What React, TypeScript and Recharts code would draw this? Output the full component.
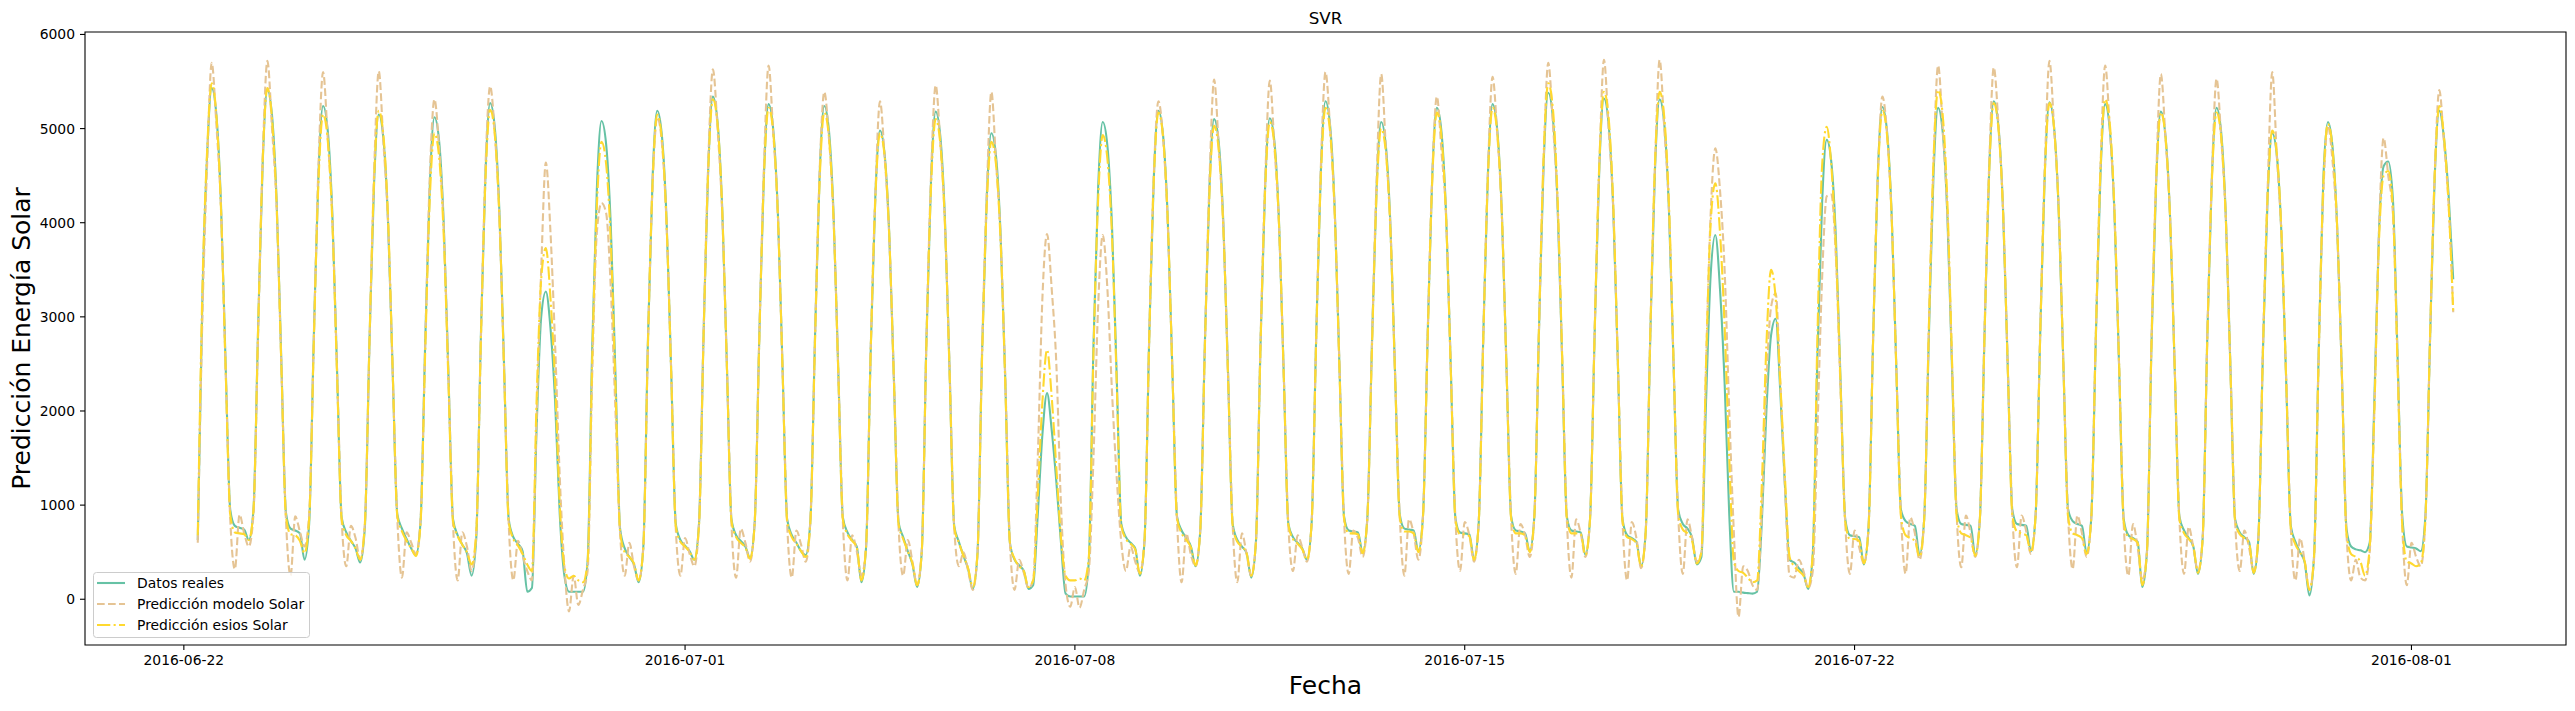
import { LineChart, Line, XAxis, YAxis, ReferenceArea } from "recharts";

const W = 2575;
const H = 711;
const FONT = '"DejaVu Sans", sans-serif';
const HOUR = 3600 * 1000;

// primera muestra: 2016-06-22 06:00, una muestra cada 2 horas
const startTime = Date.UTC(2016, 5, 22, 6);
const stepHours = 2;

const tickLabels = ["2016-06-22", "2016-07-01", "2016-07-08", "2016-07-15", "2016-07-22", "2016-08-01"];
const yTicks = [0, 1000, 2000, 3000, 4000, 5000, 6000];

// filas por día: horas 0, 2, 4 ... 22
const datosReales = [
  630, 3200, 4700, 5430, 5150, 4200, 2500, 950, 780, // 06-22 desde 06h
  760, 740, 630, 950, 2870, 4650, 5410, 5140, 4220, 2540, 920, 750,
  730, 700, 420, 800, 2780, 4510, 5240, 4980, 4090, 2460, 870, 710,
  620, 540, 390, 760, 2730, 4430, 5150, 4890, 4010, 2420, 900, 750,
  640, 540, 470, 820, 2710, 4400, 5120, 4870, 3990, 2410, 850, 680,
  580, 490, 250, 640, 2790, 4530, 5270, 5010, 4110, 2480, 850, 660,
  590, 510, 80, 120, 1800, 3000, 3270, 2880, 2100, 900, 250, 80, // 06-28
  80, 80, 80, 400, 2690, 4370, 5080, 4830, 3960, 2390, 750, 540,
  450, 370, 180, 550, 2750, 4470, 5190, 4930, 4050, 2440, 800, 630,
  570, 510, 420, 800, 2830, 4590, 5340, 5070, 4160, 2510, 850, 680, // 07-01
  620, 560, 440, 810, 2790, 4520, 5260, 4990, 4100, 2470, 850, 680,
  600, 510, 470, 830, 2780, 4510, 5240, 4980, 4090, 2460, 870, 710,
  630, 560, 180, 550, 2640, 4280, 4980, 4730, 3880, 2340, 820, 660,
  510, 370, 130, 500, 2740, 4450, 5180, 4920, 4040, 2430, 780, 610,
  460, 320, 110, 470, 2630, 4260, 4950, 4710, 3860, 2330, 600, 420,
  360, 300, 110, 150, 900, 1750, 2190, 1800, 1250, 600, 60, 30, // 07-07
  30, 30, 30, 400, 2690, 4360, 5070, 4820, 3960, 2380, 800, 660,
  600, 540, 250, 620, 2750, 4470, 5190, 4930, 4050, 2440, 880, 730,
  650, 560, 350, 720, 2700, 4380, 5100, 4850, 3980, 2400, 800, 630,
  560, 490, 230, 600, 2710, 4400, 5110, 4860, 3990, 2400, 800, 660,
  600, 540, 420, 800, 2800, 4550, 5290, 5030, 4130, 2490, 880, 730,
  720, 710, 490, 850, 2690, 4360, 5070, 4820, 3960, 2380, 900, 750,
  740, 730, 510, 880, 2770, 4490, 5220, 4960, 4070, 2450, 860, 710,
  700, 690, 420, 800, 2790, 4520, 5260, 4990, 4100, 2470, 880, 730, // 07-15
  720, 700, 510, 880, 2850, 4620, 5380, 5110, 4190, 2530, 880, 730,
  720, 710, 470, 850, 2820, 4580, 5320, 5050, 4150, 2500, 850, 680,
  650, 610, 350, 720, 2820, 4570, 5310, 5050, 4140, 2500, 950, 800,
  750, 650, 370, 450, 2100, 3450, 3870, 3300, 2300, 900, 80, 80, // 07-19
  70, 65, 60, 80, 800, 2000, 2800, 2980, 2200, 1200, 420, 390,
  330, 270, 110, 480, 2590, 4200, 4880, 4640, 3810, 2290, 850, 680,
  670, 660, 370, 750, 2770, 4500, 5230, 4970, 4080, 2460, 950, 830, // 07-22
  800, 780, 470, 850, 2770, 4490, 5220, 4960, 4070, 2450, 950, 800,
  790, 780, 470, 850, 2800, 4550, 5290, 5030, 4130, 2490, 950, 800,
  790, 780, 510, 880, 2800, 4540, 5280, 5010, 4110, 2480, 960, 830,
  800, 780, 490, 860, 2790, 4520, 5260, 4990, 4100, 2470, 850, 680,
  650, 610, 130, 500, 2740, 4450, 5180, 4920, 4040, 2430, 880, 730,
  650, 560, 270, 640, 2770, 4490, 5220, 4960, 4070, 2450, 850, 710,
  660, 610, 270, 640, 2630, 4260, 4950, 4710, 3860, 2330, 780, 610,
  500, 390, 40, 450, 2600, 4450, 5070, 4800, 3950, 2400, 750, 560,
  530, 520, 500, 600, 2100, 3900, 4600, 4650, 4250, 2600, 900, 560,
  550, 540, 510, 880, 2750, 4470, 5190, 4900, 4300, 3400, // 08-01 hasta 18h
];

const prediccionModelo = [
  600, 3000, 4600, 5700, 5050, 4150, 2450, 850, 320,
  900, 700, 560, 900, 2800, 4700, 5720, 5000, 4150, 2500, 850, 250,
  880, 720, 560, 900, 2750, 4600, 5600, 4900, 4050, 2450, 850, 350,
  780, 650, 420, 800, 2700, 4550, 5610, 4850, 4000, 2400, 850, 230,
  710, 600, 480, 850, 2700, 4500, 5310, 4800, 3950, 2400, 800, 200,
  710, 560, 300, 700, 2750, 4600, 5450, 4950, 4050, 2450, 800, 200,
  620, 460, 300, 200, 1900, 3500, 4640, 3900, 2700, 1300, 350, -130,
  250, -60, 100, 300, 2400, 3900, 4210, 4100, 3300, 2000, 700, 250,
  600, 350, 200, 550, 2700, 4400, 5120, 4850, 4000, 2450, 750, 250,
  650, 480, 350, 800, 2850, 4650, 5630, 5000, 4100, 2500, 800, 230,
  750, 600, 400, 820, 2800, 4600, 5670, 4950, 4100, 2450, 800, 230,
  730, 580, 400, 830, 2800, 4550, 5390, 4900, 4050, 2450, 820, 200,
  680, 510, 250, 560, 2650, 4300, 5290, 4700, 3850, 2350, 780, 250,
  630, 400, 150, 520, 2750, 4500, 5460, 4850, 4000, 2450, 750, 350,
  500, 300, 100, 480, 2650, 4300, 5390, 4650, 3850, 2350, 600, 100,
  420, 280, 120, 200, 1500, 3200, 3880, 3300, 2500, 1000, 150, -80,
  130, -90, 100, 300, 1500, 3100, 3870, 3300, 2200, 1300, 600, 300,
  560, 400, 280, 620, 2750, 4500, 5290, 4900, 4000, 2450, 850, 180,
  700, 470, 350, 720, 2700, 4450, 5520, 4800, 3950, 2400, 780, 180,
  700, 480, 250, 600, 2750, 4450, 5510, 4800, 3950, 2400, 780, 300,
  680, 550, 400, 800, 2800, 4600, 5600, 5000, 4100, 2500, 850, 270,
  730, 650, 450, 850, 2700, 4450, 5580, 4800, 3950, 2400, 880, 250,
  850, 700, 420, 880, 2800, 4500, 5340, 4750, 4050, 2450, 850, 300,
  820, 680, 400, 800, 2800, 4550, 5550, 4950, 4100, 2450, 850, 270,
  800, 680, 450, 880, 2850, 4650, 5700, 5050, 4200, 2550, 850, 230,
  850, 700, 450, 850, 2850, 4600, 5730, 5000, 4150, 2500, 830, 200,
  820, 650, 330, 720, 2850, 4600, 5730, 5000, 4150, 2500, 900, 270,
  850, 650, 400, 500, 2500, 4100, 4790, 4350, 3500, 2000, 700, -190,
  350, 300, 150, 100, 900, 2300, 3100, 3250, 2300, 1200, 250, 230,
  420, 300, 120, 300, 1800, 3400, 4280, 4300, 3600, 2200, 800, 270,
  730, 550, 380, 750, 2800, 4500, 5340, 4950, 4050, 2450, 900, 270,
  870, 700, 420, 850, 2850, 4600, 5670, 5000, 4100, 2500, 900, 340,
  890, 700, 450, 850, 2850, 4600, 5650, 5050, 4150, 2500, 900, 340,
  890, 720, 480, 880, 2850, 4600, 5720, 5000, 4150, 2500, 900, 320,
  890, 700, 450, 860, 2850, 4600, 5670, 5000, 4100, 2500, 800, 250,
  800, 550, 200, 500, 2800, 4500, 5580, 4900, 4050, 2450, 850, 270,
  770, 550, 300, 640, 2800, 4500, 5530, 4900, 4050, 2450, 830, 300,
  730, 550, 300, 640, 2700, 4350, 5600, 4700, 3850, 2350, 750, 200,
  650, 400, 100, 420, 2550, 4300, 5030, 4650, 3900, 2400, 700, 200,
  420, 230, 200, 500, 2000, 3900, 4900, 4500, 4100, 2550, 800, 150,
  600, 450, 350, 850, 2750, 4500, 5410, 4850, 4200, 3050,
];

const prediccionEsios = [
  680, 3300, 4750, 5480, 5150, 4150, 2450, 900, 710,
  700, 690, 630, 950, 2880, 4670, 5430, 5100, 4180, 2500, 880, 690,
  680, 620, 490, 850, 2730, 4430, 5150, 4880, 4000, 2400, 850, 680,
  620, 540, 420, 800, 2750, 4470, 5190, 4930, 4050, 2430, 880, 720,
  620, 540, 460, 800, 2620, 4260, 4950, 4700, 3860, 2330, 830, 670,
  580, 500, 370, 700, 2750, 4470, 5200, 4940, 4050, 2440, 820, 640,
  570, 480, 370, 300, 2100, 3400, 3730, 3200, 2300, 1000, 350, 220,
  250, 200, 180, 400, 2570, 4180, 4860, 4620, 3790, 2280, 720, 500,
  450, 380, 200, 550, 2720, 4430, 5150, 4890, 4010, 2420, 780, 610,
  560, 500, 420, 780, 2820, 4570, 5310, 5050, 4150, 2500, 830, 660,
  600, 550, 430, 800, 2770, 4490, 5220, 4960, 4070, 2450, 830, 660,
  590, 510, 450, 820, 2740, 4450, 5170, 4910, 4030, 2430, 850, 690,
  620, 550, 200, 560, 2630, 4260, 4950, 4710, 3860, 2330, 800, 640,
  510, 380, 150, 500, 2700, 4380, 5100, 4840, 3980, 2400, 760, 600,
  460, 330, 130, 480, 2570, 4180, 4860, 4620, 3790, 2280, 600, 430,
  350, 300, 130, 200, 1100, 2100, 2650, 2150, 1400, 650, 250, 200,
  200, 220, 200, 450, 2610, 4240, 4930, 4680, 3850, 2320, 780, 640,
  590, 530, 270, 630, 2740, 4450, 5170, 4910, 4030, 2430, 860, 700,
  630, 550, 360, 720, 2660, 4320, 5030, 4770, 3920, 2360, 780, 610,
  560, 490, 250, 600, 2690, 4360, 5070, 4820, 3960, 2380, 790, 640,
  590, 530, 420, 800, 2770, 4490, 5220, 4960, 4070, 2450, 860, 700,
  700, 690, 490, 850, 2650, 4300, 5000, 4750, 3900, 2350, 870, 720,
  720, 700, 500, 870, 2740, 4450, 5170, 4910, 4030, 2430, 840, 690,
  690, 670, 420, 800, 2770, 4490, 5220, 4960, 4070, 2450, 860, 700,
  700, 680, 500, 880, 2900, 4710, 5480, 5210, 4270, 2580, 860, 700,
  700, 690, 470, 850, 2850, 4630, 5390, 5120, 4200, 2530, 830, 660,
  640, 590, 350, 720, 2850, 4630, 5390, 5120, 4200, 2530, 900, 740,
  700, 620, 380, 500, 2500, 4000, 4420, 3900, 2900, 1500, 400, 300,
  280, 230, 180, 200, 1200, 2700, 3500, 3200, 2300, 1300, 450, 350,
  300, 250, 130, 500, 2800, 4600, 5020, 4600, 3700, 2250, 820, 640,
  640, 620, 380, 750, 2750, 4470, 5190, 4930, 4050, 2440, 880, 680,
  650, 620, 450, 850, 2870, 4650, 5410, 5140, 4220, 2540, 880, 700,
  680, 650, 460, 850, 2790, 4530, 5270, 5000, 4110, 2480, 890, 720,
  700, 680, 500, 880, 2790, 4530, 5270, 5000, 4110, 2480, 880, 700,
  680, 650, 480, 860, 2820, 4570, 5310, 5050, 4140, 2500, 820, 660,
  640, 600, 150, 500, 2740, 4450, 5170, 4910, 4030, 2430, 850, 700,
  640, 560, 280, 640, 2740, 4450, 5170, 4910, 4030, 2430, 830, 690,
  650, 600, 280, 640, 2640, 4280, 4980, 4730, 3880, 2340, 760, 580,
  500, 400, 100, 450, 2580, 4400, 5050, 4780, 3940, 2380, 700, 480,
  450, 400, 250, 550, 2000, 3800, 4500, 4550, 4150, 2500, 800, 400,
  380, 350, 380, 850, 2780, 4500, 5240, 4920, 4200, 3050,
];

const series = [
  { key: "real", name: "Datos reales", color: "#66c2a5", dash: undefined as string | undefined },
  { key: "modelo", name: "Predicción modelo Solar", color: "#e5c494", dash: "7.7 3.3" },
  { key: "esios", name: "Predicción esios Solar", color: "#ffd92f", dash: "13.3 3.3 2.1 3.3" },
];

const rows = datosReales.map((v, i) => ({
  t: startTime + i * stepHours * HOUR,
  real: v,
  modelo: prediccionModelo[i],
  esios: prediccionEsios[i],
}));

// límites como matplotlib: 5% de margen sobre los datos
const tFirst = rows[0].t;
const tLast = rows[rows.length - 1].t;
const padX = (tLast - tFirst) * 0.05;
const xDomain: [number, number] = [tFirst - padX, tLast + padX];

const allValues = [...datosReales, ...prediccionModelo, ...prediccionEsios];
const vMin = Math.min(...allValues);
const vMax = Math.max(...allValues);
const padY = (vMax - vMin) * 0.05;
const yDomain: [number, number] = [vMin - padY, vMax + padY];

const xTicks = tickLabels.map((d) => Date.parse(d + "T00:00:00Z"));
const formatDate = (v: number) => new Date(v).toISOString().slice(0, 10);

const tickStyle = { fill: "#000", fontSize: 13.9, fontFamily: FONT };

function LegendBox() {
  const x0 = 93;
  const y0 = 572;
  return (
    <g>
      <rect x={x0 + 0.5} y={y0 + 0.5} width={216} height={65} rx={3} fill="#fff" fillOpacity={0.8} stroke="#cccccc" />
      {series.map((s, i) => {
        const cy = 583 + i * 21;
        return (
          <g key={s.key}>
            <line x1={97} x2={125} y1={cy} y2={cy} stroke={s.color} strokeWidth={2.1} strokeDasharray={s.dash} />
            <text x={137} y={cy + 5} fontSize={13.9} fontFamily={FONT} fill="#000">
              {s.name}
            </text>
          </g>
        );
      })}
    </g>
  );
}

export default function App() {
  return (
    <div style={{ position: "absolute", left: 0, top: 0, width: W, height: H, background: "#fff", fontFamily: FONT }}>
      <LineChart width={W} height={H} data={rows} margin={{ top: 32, right: 9, bottom: 0, left: 0 }}>
        <XAxis
          dataKey="t"
          type="number"
          domain={xDomain}
          ticks={xTicks}
          tickFormatter={formatDate}
          height={66}
          tickSize={5}
          tickMargin={5}
          axisLine={false}
          tickLine={{ stroke: "#000", strokeWidth: 1.1 }}
          tick={tickStyle}
          allowDataOverflow
          label={{ value: "Fecha", position: "insideBottom", offset: 17, fontSize: 25, fill: "#000", fontFamily: FONT }}
        />
        <YAxis
          type="number"
          domain={yDomain}
          ticks={yTicks}
          width={85}
          tickSize={5}
          tickMargin={5}
          axisLine={false}
          tickLine={{ stroke: "#000", strokeWidth: 1.1 }}
          tick={tickStyle}
          allowDataOverflow
          label={{
            value: "Predicción Energía Solar",
            angle: -90,
            position: "insideLeft",
            offset: 21,
            fontSize: 25,
            fill: "#000",
            fontFamily: FONT,
            style: { textAnchor: "middle" },
          }}
        />
        {series.map((s) => (
          <Line
            key={s.key}
            dataKey={s.key}
            name={s.name}
            type="monotone"
            stroke={s.color}
            strokeWidth={2.1}
            strokeDasharray={s.dash}
            dot={false}
            activeDot={false}
            isAnimationActive={false}
          />
        ))}
        <ReferenceArea
          x1={xDomain[0]}
          x2={xDomain[1]}
          y1={yDomain[0]}
          y2={yDomain[1]}
          fill="none"
          stroke="#000"
          strokeWidth={1.1}
          ifOverflow="visible"
        />
      </LineChart>
      <svg width={W} height={H} style={{ position: "absolute", left: 0, top: 0, pointerEvents: "none" }}>
        <text x={1325.5} y={24} textAnchor="middle" fontSize={16.7} fontFamily={FONT} fill="#000">
          SVR
        </text>
        <LegendBox />
      </svg>
    </div>
  );
}
